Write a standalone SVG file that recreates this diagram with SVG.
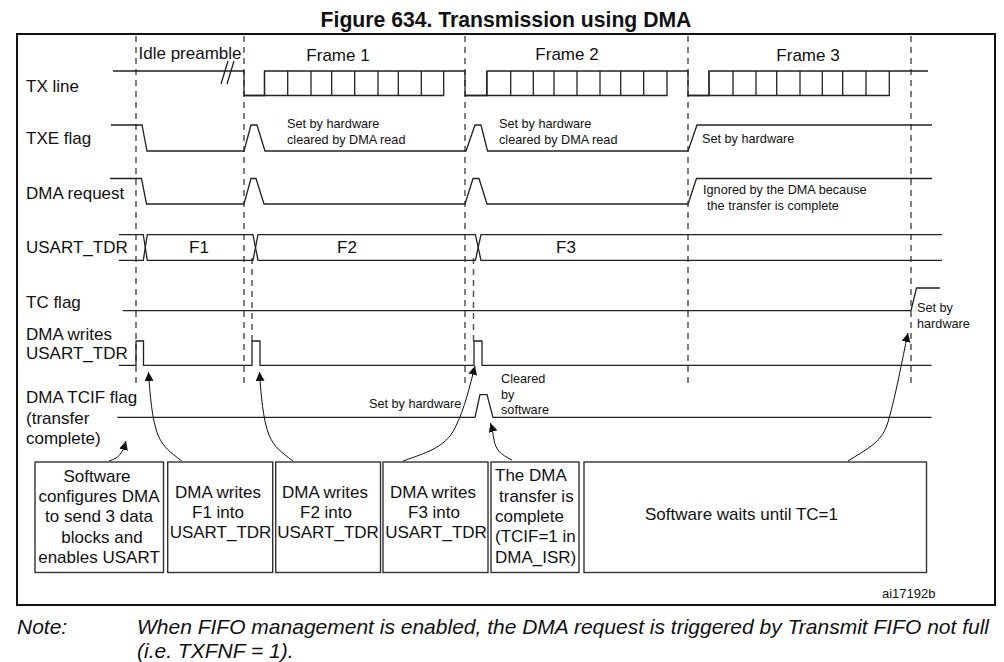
<svg xmlns="http://www.w3.org/2000/svg" width="1004" height="662" viewBox="0 0 1004 662">
<style>
text{font-family:"Liberation Sans",Arial,sans-serif;fill:#111}
.l{font-size:17px}
.s{font-size:12.7px}
.c{text-anchor:middle}
.w{fill:none;stroke:#222;stroke-width:1.3}
.d{fill:none;stroke:#555;stroke-width:1.5;stroke-dasharray:6 5}
.b{fill:#fff;stroke:#333;stroke-width:1.4}
.a{fill:none;stroke:#111;stroke-width:1}
.n{font-size:21px;font-style:italic}
</style>
<defs><marker id="ah" markerUnits="userSpaceOnUse" markerWidth="10" markerHeight="10" refX="9" refY="4.500" orient="auto"><path d="M0 0L9 4.500L0 9Z" fill="#111"/></marker></defs>
<rect width="1004" height="662" fill="#fff"/>
<text x="506" y="27" text-anchor="middle" font-weight="700" font-size="21.200px">Figure 634. Transmission using DMA</text>
<rect x="17" y="34" width="978" height="571" fill="none" stroke="#111" stroke-width="2"/>
<g id="timing-guides">
<path class="d" d="M136 36V383M244 36V383M465 36V383M688 36V383M911 36V383"/>
<path class="d" stroke-width="1" d="M252 258V341M473.500 258V341"/>
</g>
<g id="connectors">
<path class="w" d="M113 71H244V95.500H264.500V71H465V95.500H487V71H688V95.500H709V71H928"/>
<path class="w" d="M244 95.500H443.700V71M465 95.500H667V71M688 95.500H889.300V71M264.500 71V95.500M287.700 71V95.500M311 71V95.500M331.700 71V95.500M354.700 71V95.500M378 71V95.500M398.300 71V95.500M421.300 71V95.500M486.700 71V95.500M510.700 71V95.500M533.300 71V95.500M554 71V95.500M577 71V95.500M600 71V95.500M620.700 71V95.500M643.700 71V95.500M709 71V95.500M733 71V95.500M756 71V95.500M776.700 71V95.500M800 71V95.500M822.300 71V95.500M842.700 71V95.500M866 71V95.500"/>
<path class="w" d="M221 84L228 61M227 84L234 61"/>
<path class="w" d="M111 125H142L147 151H244L251 125H257L265 151H466L475 125H481L487.500 151H688L697 125H932"/>
<path class="w" d="M110 178.500H141.500L146.500 204H244L251 178.500H256L264 204H465L473 178.500H479L487 204H688L696.500 178.500H932"/>
<path class="w" d="M119 234.700H143.300L147.300 260.300H253L258 234.700H475.400L481 260.300H942"/>
<path class="w" d="M119 260.300H143.300L147.300 234.700H253L258 260.300H475.400L481 234.700H942"/>
<path class="w" d="M122.700 310.700H911L916.500 288H940"/>
<path class="w" d="M119 365.300H136V341H143.500V365.300H252V341H260V365.300H474V341H482V365.300H931.600"/>
<path class="w" d="M117.300 417.300H475L480 394.700H487L493 417.300H931.600"/>
<path class="a" marker-end="url(#ah)" d="M109 461C118 458 122 455 126 441"/>
<path class="a" marker-end="url(#ah)" d="M181.700 461C170 452 163 447 158 435C152 420 150 395 148.500 372"/>
<path class="a" marker-end="url(#ah)" d="M293 461C281 452 274 447 269 435C263 420 261 395 259.500 372"/>
<path class="a" marker-end="url(#ah)" d="M403 461C425 453 445 448 455 428C465 408 470 385 475 366"/>
<path class="a" marker-end="url(#ah)" d="M512 460C500 454 496 450 494 440C493 434 492 428 490.500 423"/>
<path class="a" marker-end="url(#ah)" d="M848 461C870 447 882 442 888 422C896 395 902 360 908 333"/>
</g>
<g id="signal-labels">
<text class="l" x="26" y="92">TX line</text>
<text class="l" x="26" y="144">TXE flag</text>
<text class="l" x="26" y="199">DMA request</text>
<text class="l" x="26" y="253">USART_TDR</text>
<text class="l" x="26" y="308">TC flag</text>
<text class="l" x="26" y="340">DMA writes</text>
<text class="l" x="26" y="359">USART_TDR</text>
<text class="l" x="26" y="403">DMA TCIF flag</text>
<text class="l" x="26" y="424">(transfer</text>
<text class="l" x="26" y="444">complete)</text>
</g>
<g id="timing-labels">
<text class="l" x="138.500" y="59">Idle preamble</text>
<text class="l c" x="338" y="61">Frame 1</text>
<text class="l c" x="567" y="60">Frame 2</text>
<text class="l c" x="808" y="61">Frame 3</text>
<text class="l c" x="199" y="253">F1</text>
<text class="l c" x="347" y="253">F2</text>
<text class="l c" x="566" y="253">F3</text>
<text class="s" x="287" y="128">Set by hardware</text>
<text class="s" x="287" y="144">cleared by DMA read</text>
<text class="s" x="499" y="128">Set by hardware</text>
<text class="s" x="499" y="144">cleared by DMA read</text>
<text class="s" x="702" y="143">Set by hardware</text>
<text class="s" x="703" y="194">Ignored by the DMA because</text>
<text class="s" x="707" y="210">the transfer is complete</text>
<text class="s" x="369" y="408">Set by hardware</text>
<text class="s" x="501" y="383">Cleared</text>
<text class="s" x="501" y="399">by</text>
<text class="s" x="501" y="414">software</text>
<text class="s" x="917" y="312">Set by</text>
<text class="s" x="917" y="328">hardware</text>
</g>
<g id="box-software-configures"><rect class="b" x="35" y="462" width="128.500" height="110.500"/>
<text class="l c" x="97" y="482">Software</text><text class="l c" x="99" y="502">configures DMA</text><text class="l c" x="99" y="522">to send 3 data</text><text class="l c" x="102" y="543">blocks and</text><text class="l c" x="99" y="563">enables USART</text></g>
<g id="box-f1"><rect class="b" x="167.700" y="462" width="105" height="110.500"/>
<text class="l c" x="218" y="498">DMA writes</text><text class="l c" x="218" y="518">F1 into</text><text class="l c" x="220.500" y="538">USART_TDR</text></g>
<g id="box-f2"><rect class="b" x="275.700" y="462" width="104.800" height="110.500"/>
<text class="l c" x="325" y="498">DMA writes</text><text class="l c" x="326" y="518">F2 into</text><text class="l c" x="328" y="538">USART_TDR</text></g>
<g id="box-f3"><rect class="b" x="383" y="462" width="105" height="110.500"/>
<text class="l c" x="433" y="498">DMA writes</text><text class="l c" x="434" y="518">F3 into</text><text class="l c" x="436" y="538">USART_TDR</text></g>
<g id="box-transfer-complete"><rect class="b" x="491" y="462" width="88" height="110.500"/>
<text class="l" x="495" y="481">The DMA</text><text class="l" x="499" y="502">transfer is</text><text class="l" x="495" y="522">complete</text><text class="l" x="495" y="542">(TCIF=1 in</text><text class="l" x="495" y="563">DMA_ISR)</text></g>
<g id="box-software-waits"><rect class="b" x="584" y="462" width="342.500" height="110.500"/>
<text class="l c" x="741.500" y="520">Software waits until TC=1</text></g>
<text x="882" y="598" font-size="13px">ai17192b</text>
<text class="n" x="17" y="634">Note:</text>
<text class="n" x="137" y="634">When FIFO management is enabled, the DMA request is triggered by Transmit FIFO not full</text>
<text class="n" x="137" y="657.500">(i.e. TXFNF = 1).</text>
</svg>
